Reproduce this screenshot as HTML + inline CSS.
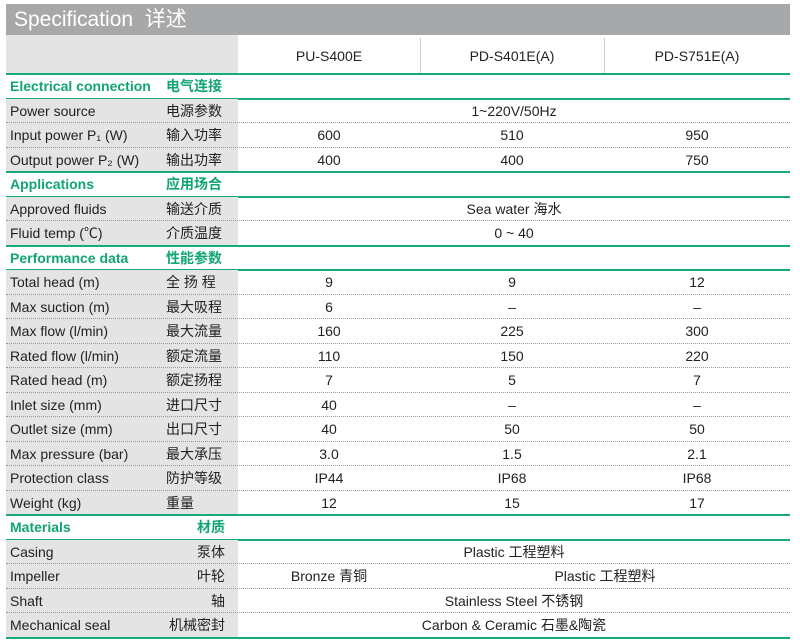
<!DOCTYPE html><html><head><meta charset="utf-8"><style>
body{margin:0;width:800px;height:644px;background:#fff;position:relative;font-family:"Liberation Sans","Noto Sans CJK SC",sans-serif;overflow:hidden}
.t{position:absolute;left:6px;top:4px;width:784px;height:31px;background:#a7a8aa;color:#fff;font-size:21px;line-height:31px;padding-left:8px;box-sizing:border-box}
.hg{position:absolute;left:6px;top:35px;width:232px;height:39px;background:#e4e4e5}
.hc{position:absolute;top:35px;height:39px;line-height:42px;text-align:center;font-size:14px;color:#222}
.vl{position:absolute;top:38px;height:36px;border-left:1px solid #ccc}
.r{position:absolute;left:6px;width:784px;height:24.5px;font-size:14px;color:#222}
.r .l{position:absolute;left:0;top:0;width:232px;height:100%;background:#e4e4e5}
.r span{position:absolute;line-height:24.5px;white-space:nowrap}
.r .a{left:4px}.r .b{left:160px}.r .br{right:565px}
.c{text-align:center}
.dot{position:absolute;left:6px;width:784px;border-top:1px dotted #999}
.g{position:absolute;left:6px;width:784px;height:2px;background:#1aa97d}
.s{color:#11a574;font-weight:bold}
</style></head><body>
<div class="t">Specification&nbsp; 详述</div>
<div class="hg"></div>
<div class="hc" style="left:238px;width:182px">PU-S400E</div>
<div class="hc" style="left:420px;width:184px">PD-S401E(A)</div>
<div class="hc" style="left:604px;width:186px">PD-S751E(A)</div>
<div class="vl" style="left:420px"></div><div class="vl" style="left:604px"></div>
<div id="rows"></div>
<script>
(function(){
var R=[
['s','Electrical connection','电气连接'],
['n','Power source','电源参数',['1~220V/50Hz']],
['n','Input power P₁ (W)','输入功率',['600','510','950']],
['n','Output power P₂ (W)','输出功率',['400','400','750']],
['s','Applications','应用场合'],
['n','Approved fluids','输送介质',['Sea water 海水']],
['n','Fluid temp (℃)','介质温度',['0 ~ 40']],
['s','Performance data','性能参数'],
['n','Total head (m)','全 扬 程',['9','9','12']],
['n','Max suction (m)','最大吸程',['6','–','–']],
['n','Max flow (l/min)','最大流量',['160','225','300']],
['n','Rated flow (l/min)','额定流量',['110','150','220']],
['n','Rated head (m)','额定扬程',['7','5','7']],
['n','Inlet size (mm)','进口尺寸',['40','–','–']],
['n','Outlet size (mm)','出口尺寸',['40','50','50']],
['n','Max pressure (bar)','最大承压',['3.0','1.5','2.1']],
['n','Protection class','防护等级',['IP44','IP68','IP68']],
['n','Weight  (kg)','重量',['12','15','17']],
['s','Materials','材质','r'],
['n','Casing','泵体',['Plastic  工程塑料'],'r'],
['n','Impeller','叶轮',['Bronze  青铜','Plastic  工程塑料'],'r'],
['n','Shaft','轴',['Stainless Steel  不锈钢'],'r'],
['n','Mechanical seal','机械密封',['Carbon &amp; Ceramic  石墨&amp;陶瓷'],'r']];
var h='',y0=74,H=24.5;
for(var i=0;i<R.length;i++){var r=R[i],ty=y0+i*H;
if(r[0]=='s'){h+='<div class="r s" style="top:'+ty+'px"><span class="a">'+r[1]+'</span><span class="'+(r[3]?'br':'b')+'">'+r[2]+'</span></div>';
h+='<div class="g" style="top:'+(ty-1)+'px"></div><div class="g" style="top:'+(ty+H-1)+'px"></div>';}
else{var v=r[3],cells='';
if(v.length==3){cells='<span class="c" style="left:232px;width:182px">'+v[0]+'</span><span class="c" style="left:414px;width:184px">'+v[1]+'</span><span class="c" style="left:598px;width:186px">'+v[2]+'</span>';}
else if(v.length==2){cells='<span class="c" style="left:232px;width:182px">'+v[0]+'</span><span class="c" style="left:414px;width:370px">'+v[1]+'</span>';}
else cells='<span class="c" style="left:232px;width:552px">'+v[0]+'</span>';
h+='<div class="r" style="top:'+ty+'px"><div class="l"></div><span class="a">'+r[1]+'</span><span class="'+(r[4]?'br':'b')+'">'+r[2]+'</span>'+cells+'</div>';
if(i+1<R.length&&R[i+1][0]!='s')h+='<div class="dot" style="top:'+(ty+H-1)+'px"></div>';}
}
h+='<div class="g" style="top:'+(y0+R.length*H-1)+'px"></div>';
document.getElementById('rows').innerHTML=h;
})();
</script>
</body></html>
